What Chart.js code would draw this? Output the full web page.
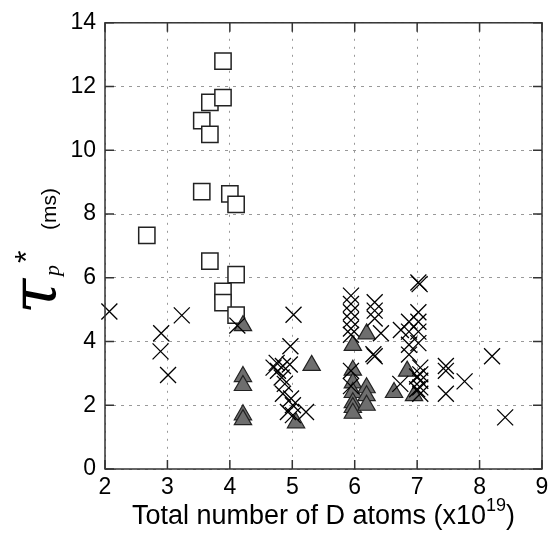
<!DOCTYPE html>
<html>
<head>
<meta charset="utf-8">
<script src="https://cdn.jsdelivr.net/npm/chart.js@4.4.1/dist/chart.umd.min.js"></script>
<style>
  html, body { margin: 0; padding: 0; background: #fff; }
  canvas { display: block; }
</style>
</head>
<body>
<canvas id="tauChart" width="555" height="546"></canvas>
<script>
// Tick marks on both axes
const X_TICKS = [2, 3, 4, 5, 6, 7, 8, 9];
const Y_TICKS = [0, 2, 4, 6, 8, 10, 12, 14];

// Open squares
const squareX = [3.89, 3.68, 3.89, 3.55, 3.68, 3.55, 4.00, 4.10, 2.67, 3.68, 4.10, 3.89, 3.89, 4.10];
const squareY = [12.8, 11.5, 11.65, 10.93, 10.5, 8.7, 8.63, 8.3, 7.33, 6.52, 6.1, 5.57, 5.22, 4.83];

// Grey filled triangles
const triX = [4.21, 4.21, 4.21, 4.21, 4.21, 5.31, 5.06, 6.19, 5.97, 5.97, 5.97, 5.97, 5.97, 5.97, 5.97,
              6.19, 6.19, 6.19, 6.63, 6.84, 6.95];
const triY = [4.50, 2.90, 2.62, 1.70, 1.55, 3.25, 1.45, 4.24, 3.88, 3.10, 2.70, 2.40, 2.08, 1.93, 1.75,
              2.55, 2.30, 2.00, 2.40, 3.07, 2.30];

// Crosses
const crossX = [2.07, 2.90, 2.89, 3.23, 3.01, 4.12,
                5.02, 4.97, 4.75, 4.85, 4.96, 4.77, 4.83, 4.88, 4.85, 4.98, 5.01, 5.22, 5.01, 4.93, 4.70,
                5.94, 5.94, 5.94, 5.94, 5.94, 5.94, 5.94, 5.94,
                6.32, 6.32, 6.32, 6.42, 6.32, 6.30, 6.73,
                6.87, 6.87, 7.02, 7.02, 7.02, 7.02, 6.87, 6.87, 6.74, 7.02, 7.04,
                7.05, 7.05, 7.05, 7.05, 7.05, 7.00, 7.00,
                7.46, 7.46, 7.46, 7.76, 8.20, 8.41];
const crossY = [4.94, 4.26, 3.69, 4.82, 2.95, 4.50,
                4.84, 3.85, 3.33, 3.23, 3.28, 3.08, 2.87, 2.67, 2.36, 2.21, 2.00, 1.79, 1.69, 1.79, 3.18,
                5.44, 5.18, 4.92, 4.67, 4.41, 4.21, 3.08, 2.60,
                5.23, 4.97, 4.72, 4.26, 3.54, 3.60, 2.67,
                4.62, 4.31, 4.92, 4.62, 4.31, 3.95, 3.90, 3.59, 4.36, 5.85, 5.80,
                3.18, 2.97, 2.77, 2.56, 2.36, 2.90, 2.50,
                3.23, 3.08, 2.36, 2.75, 3.54, 1.62];

const toPts = (xs, ys) => xs.map((x, i) => ({ x, y: ys[i] }));

const SANS = "'Liberation Sans', Arial, sans-serif";
const TICK_LEN = 9;

// Box, inner ticks and the two axis titles (the y title needs sub/superscripts)
const framePlugin = {
  id: "frame",
  afterDraw(chart) {
    const { ctx, chartArea: a, scales: { x, y } } = chart;
    ctx.save();
    ctx.strokeStyle = "#333";
    ctx.lineWidth = 1.5;
    ctx.beginPath();
    x.ticks.forEach(t => {
      const px = x.getPixelForValue(t.value);
      ctx.moveTo(px, a.bottom); ctx.lineTo(px, a.bottom - TICK_LEN);
      ctx.moveTo(px, a.top); ctx.lineTo(px, a.top + TICK_LEN);
    });
    y.ticks.forEach(t => {
      const py = y.getPixelForValue(t.value);
      ctx.moveTo(a.left, py); ctx.lineTo(a.left + TICK_LEN, py);
      ctx.moveTo(a.right, py); ctx.lineTo(a.right - TICK_LEN, py);
    });
    ctx.stroke();
    ctx.strokeRect(a.left, a.top, a.right - a.left, a.bottom - a.top);

    // x title with superscript 19
    ctx.fillStyle = "#000";
    ctx.textBaseline = "alphabetic";
    const main = "Total number of D atoms (x10", sup = "19", close = ")";
    const fMain = "27px " + SANS, fSup = "18px " + SANS;
    ctx.font = fMain;
    const wMain = ctx.measureText(main).width, wClose = ctx.measureText(close).width;
    ctx.font = fSup;
    const wSup = ctx.measureText(sup).width;
    let tx = (a.left + a.right) / 2 - (wMain + wSup + wClose) / 2;
    const base = 524;
    ctx.font = fMain; ctx.fillText(main, tx, base); tx += wMain;
    ctx.font = fSup; ctx.fillText(sup, tx, base - 13); tx += wSup;
    ctx.font = fMain; ctx.fillText(close, tx, base);

    // y title, rotated: tau, subscript p, superscript *, then (ms)
    ctx.translate(0, chart.height);
    ctx.rotate(-Math.PI / 2);
    ctx.font = "italic 64px 'DejaVu Serif', serif";
    ctx.fillText("\u03C4", 232, 56);
    ctx.font = "italic 22px 'Liberation Serif', serif";
    ctx.fillText("p", 270, 59);
    ctx.font = "32px " + SANS;
    ctx.fillText("*", 283, 37);
    ctx.font = "21px " + SANS;
    ctx.fillText("(ms)", 316, 56);
    ctx.restore();
  }
};

new Chart(document.getElementById("tauChart"), {
  type: "scatter",
  data: {
    datasets: [
      {
        label: "crosses", data: toPts(crossX, crossY), order: 0,
        pointStyle: "crossRot", pointRadius: 11.3, pointHoverRadius: 11.3,
        borderColor: "#000", borderWidth: 1.3, clip: false
      },
      {
        label: "triangles", data: toPts(triX, triY), order: 1,
        pointStyle: "triangle", pointRadius: 10, pointHoverRadius: 10,
        backgroundColor: "#6e6e6e", borderColor: "#222", borderWidth: 1.2, clip: false
      },
      {
        label: "squares", data: toPts(squareX, squareY), order: 2,
        pointStyle: "rect", pointRadius: 11.5, pointHoverRadius: 11.5,
        backgroundColor: "#fff", borderColor: "#222", borderWidth: 1.5, clip: false
      }
    ]
  },
  options: {
    responsive: false,
    animation: false,
    events: [],
    layout: { padding: { left: 0, right: 7, top: 14, bottom: 0 } },
    plugins: { legend: { display: false }, tooltip: { enabled: false } },
    scales: {
      x: {
        type: "linear", min: 2, max: 9,
        afterBuildTicks: s => { s.ticks = X_TICKS.map(v => ({ value: v })); },
        afterFit: s => { s.height = 77; },
        ticks: { color: "#000", font: { family: SANS, size: 23 }, padding: 5 },
        grid: { color: "#999", lineWidth: 1, drawTicks: false },
        border: { display: false, dash: [2, 6] }
      },
      y: {
        type: "linear", min: 0, max: 14,
        afterBuildTicks: s => { s.ticks = Y_TICKS.map(v => ({ value: v })); },
        afterFit: s => { s.width = 105; },
        ticks: { color: "#000", font: { family: SANS, size: 23 }, padding: 9 },
        grid: { color: "#999", lineWidth: 1, drawTicks: false },
        border: { display: false, dash: [3, 5] }
      }
    }
  },
  plugins: [framePlugin]
});
</script>
</body>
</html>
